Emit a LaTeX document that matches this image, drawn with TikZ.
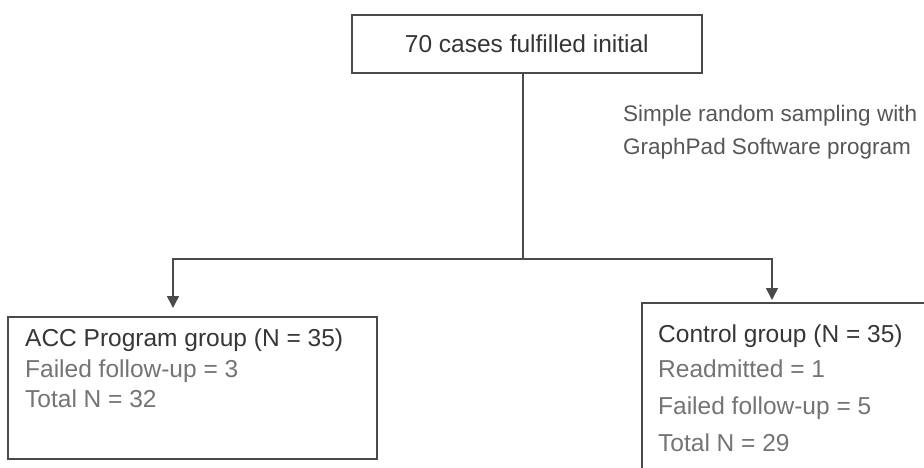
\documentclass[tikz,border=0pt]{standalone}
\usepackage{fontspec}
\setmainfont{Liberation Sans}
\usetikzlibrary{arrows.meta}
\definecolor{frame}{HTML}{4A4A4A}
\definecolor{dark}{HTML}{363636}
\definecolor{soft}{HTML}{747474}
\definecolor{side}{HTML}{575757}
\begin{document}
\begin{tikzpicture}[x=1pt,y=-1pt,
 box/.style={draw=frame, line width=1.6pt, rectangle, inner sep=0pt, anchor=north west},
 txt/.style={anchor=base west, inner sep=0pt, font=\fontsize{24.5}{28}\selectfont},
 sidetxt/.style={anchor=base west, inner sep=0pt, font=\fontsize{22.5}{28}\selectfont, text=side},
 link/.style={draw=frame, line width=1.5pt},
 arr/.style={link, -{Triangle[length=12pt,width=12pt]}}]
\clip (0,0) rectangle (924,468);
\fill[white] (0,0) rectangle (924,468);
% boxes
\node[box, minimum width=350pt, minimum height=58pt, font=\fontsize{24.5}{28}\selectfont, text=dark] (top) at (351,14) {70 cases fulfilled initial};
\node[box, minimum width=369pt, minimum height=142pt] (acc) at (7,316) {};
\node[box, minimum width=320pt, minimum height=200pt] (ctl) at (641,302) {};
% left box text
\node[txt, text=dark] (a1) at (25,346) {ACC Program group (N = 35)};
\node[txt, text=soft] (a2) at (25,377) {Failed follow-up = 3};
\node[txt, text=soft] (a3) at (25,407) {Total N = 32};
% right box text
\node[txt, text=dark] (c1) at (658,342) {Control group (N = 35)};
\node[txt, text=soft] (c2) at (658,377) {Readmitted = 1};
\node[txt, text=soft] (c3) at (658,414) {Failed follow-up = 5};
\node[txt, text=soft] (c4) at (658,451) {Total N = 29};
% side label
\node[sidetxt] (s1) at (623,122) {Simple random sampling with};
\node[sidetxt] (s2) at (623,154) {GraphPad Software program};
% connectors
\coordinate (split) at (523,259);
\draw[link] (split |- top.south) -- (split);
\draw[arr, shorten >=8pt] (split) -| ([xshift=166pt]acc.north west);
\draw[arr, shorten >=2pt] (split) -| ([xshift=131pt]ctl.north west);
\end{tikzpicture}
\end{document}
